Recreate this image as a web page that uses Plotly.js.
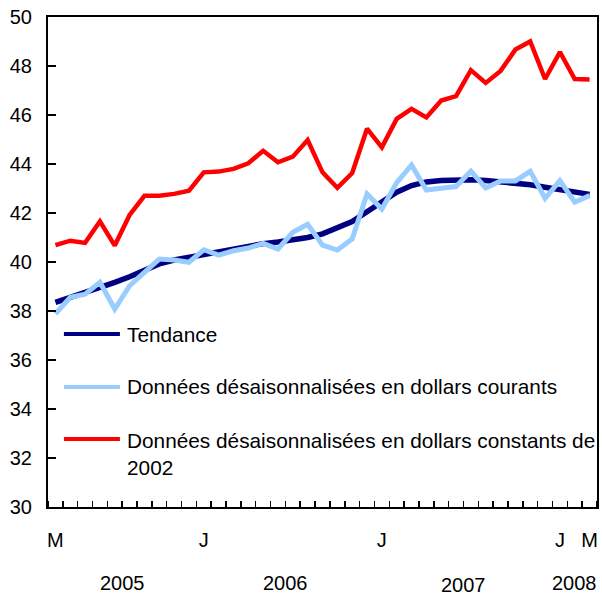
<!DOCTYPE html>
<html>
<head>
<meta charset="utf-8">
<script src="https://cdn.plot.ly/plotly-3.0.1.min.js"></script>
<style>html,body{margin:0;padding:0;background:#fff;}#chart{width:602px;height:597px;}</style>
</head>
<body>
<div id="chart"></div>
<script>
const months = ['2005-03','2005-04','2005-05','2005-06','2005-07','2005-08','2005-09','2005-10','2005-11','2005-12',
  '2006-01','2006-02','2006-03','2006-04','2006-05','2006-06','2006-07','2006-08','2006-09','2006-10','2006-11','2006-12',
  '2007-01','2007-02','2007-03','2007-04','2007-05','2007-06','2007-07','2007-08','2007-09','2007-10','2007-11','2007-12',
  '2008-01','2008-02','2008-03'];
const tendance = [38.35,38.55,38.73,38.96,39.17,39.4,39.67,39.92,40.08,40.2,
  40.3,40.42,40.55,40.65,40.75,40.82,40.9,41.0,41.15,41.38,41.65,42.05,
  42.46,42.85,43.12,43.27,43.33,43.36,43.36,43.33,43.28,43.22,43.15,43.05,
  42.94,42.83,42.76];
const courants = [37.88,38.56,38.69,39.17,38.08,39.03,39.58,40.12,40.08,39.99,
  40.5,40.28,40.46,40.57,40.76,40.53,41.21,41.54,40.69,40.49,40.94,42.78,
  42.16,43.24,43.96,42.94,43.01,43.08,43.71,43.02,43.31,43.31,43.7,42.6,
  43.32,42.44,42.71];
const constants2002 = [40.69,40.87,40.78,41.66,40.67,41.92,42.7,42.7,42.78,42.91,
  43.66,43.69,43.8,44.03,44.54,44.07,44.3,44.98,43.66,43.03,43.63,45.44,
  44.68,45.84,46.25,45.9,46.59,46.77,47.83,47.31,47.8,48.67,49.0,47.47,
  48.57,47.47,47.45];
const tickMonths = ['2005-03','2006-01','2007-01','2008-01','2008-03'];
const tickText = ['M','J','J','J','M'];
const years = ['2005','2006','2007','2008'];
const seriesNames = ['Tendance','Données désaisonnalisées en dollars courants','Données désaisonnalisées en dollars constants de<br>2002'];
const seriesColors = ['#000080','#99CCFF','#FF0000'];

const x = months.map((m, i) => i);
const FONT = 'Liberation Sans, Arial, Helvetica, sans-serif';

const traces = [
  {x: x, y: tendance, type: 'scatter', mode: 'lines', name: seriesNames[0], line: {color: seriesColors[0], width: 5.5}},
  {x: x, y: courants, type: 'scatter', mode: 'lines', name: seriesNames[1], line: {color: seriesColors[1], width: 5}},
  {x: x, y: constants2002, type: 'scatter', mode: 'lines', name: seriesNames[2], line: {color: seriesColors[2], width: 4.5}}
];

// legend drawn manually
const legY = [0.353, 0.245, 0.139];
const shapes = [];
const annotations = [];
seriesNames.forEach((n, k) => {
  shapes.push({type: 'line', xref: 'paper', yref: 'paper', x0: 0.029, x1: 0.131, y0: legY[k], y1: legY[k],
    line: {color: seriesColors[k], width: 4}});
  annotations.push({xref: 'paper', yref: 'paper', x: 0.14, y: legY[k], xanchor: 'left',
    yanchor: k === 2 ? 'top' : 'middle', yshift: k === 2 ? 12 : 0, align: 'left', showarrow: false,
    text: n, font: {family: FONT, size: 20.8, color: '#000'}});
});
// year labels centred under their months
years.forEach(yr => {
  const idx = x.filter(i => months[i].startsWith(yr));
  const c = (idx[0] + idx[idx.length - 1]) / 2;
  annotations.push({xref: 'x', yref: 'paper', x: c, y: yr === '2007' ? -0.16 : -0.155, showarrow: false,
    xanchor: 'center', yanchor: 'middle', text: yr, font: {family: FONT, size: 20, color: '#000'}});
});

const layout = {
  width: 602, height: 597,
  margin: {l: 48, r: 5, t: 17, b: 90},
  paper_bgcolor: '#fff', plot_bgcolor: '#fff',
  showlegend: false,
  font: {family: FONT, size: 20, color: '#000'},
  xaxis: {
    range: [-0.5, months.length - 0.5],
    tickmode: 'array',
    tickvals: tickMonths.map(m => months.indexOf(m)),
    ticktext: tickText,
    ticks: '',
    ticklabelstandoff: 14,
    tickfont: {family: FONT, size: 20, color: '#000'},
    minor: {tickmode: 'linear', tick0: 0.5, dtick: 1, ticks: 'inside', ticklen: 6, tickwidth: 1.5, tickcolor: '#000', showgrid: false},
    showgrid: false, zeroline: false,
    showline: true, mirror: true, linecolor: '#000', linewidth: 2
  },
  yaxis: {
    range: [30, 50],
    tickmode: 'linear', tick0: 30, dtick: 2,
    ticks: 'inside', ticklen: 8, tickwidth: 1.5, tickcolor: '#000',
    ticklabelstandoff: 10,
    tickfont: {family: FONT, size: 20, color: '#000'},
    showgrid: false, zeroline: false,
    showline: true, mirror: true, linecolor: '#000', linewidth: 2
  },
  shapes: shapes,
  annotations: annotations
};

Plotly.newPlot('chart', traces, layout, {staticPlot: true, displayModeBar: false});
</script>
</body>
</html>
